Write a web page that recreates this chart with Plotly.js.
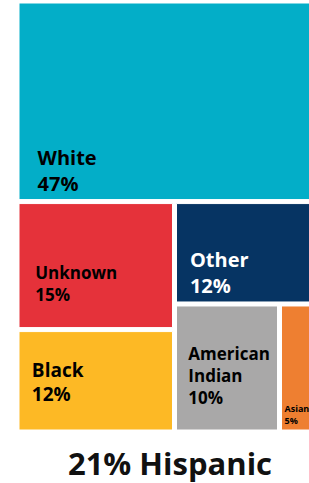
<!DOCTYPE html>
<html>
<head>
<meta charset="utf-8">
<script src="https://cdn.plot.ly/plotly-3.0.1.min.js"></script>
<style>
  html, body { margin: 0; padding: 0; overflow: hidden; background: #ffffff; }
  #chart { width: 340px; height: 483px; }
</style>
</head>
<body>
<div id="chart"></div>
<script>
// Data
const categories = ["White", "Unknown", "Black", "Other", "American Indian", "Asian"];
const displayLines = [["White"], ["Unknown"], ["Black"], ["Other"], ["American", "Indian"], ["Asian"]];
const shares = [47, 15, 12, 12, 10, 5];
const colors = ["#03AEC8", "#E5323A", "#FDB925", "#063463", "#A9A8A8", "#EE7F31"];
const textColors = ["#000000", "#000000", "#000000", "#ffffff", "#000000", "#000000"];
const textSizes = [20, 17, 19, 20, 17, 9];
const indents = [3, 3, 2, 2, 2, 0];          // leading non-breaking spaces
const liftLine = [false, true, true, false, true, false]; // extra bottom spacing line
const titleText = "21% Hispanic";

const pad = n => "&nbsp;".repeat(n);
const displayNames = displayLines.map((lines, i) => lines.map(l => pad(indents[i]) + l).join("<br>"));
const templates = categories.map((c, i) =>
  "%{text}<br>" + pad(indents[i]) + "%{value}%" +
  (liftLine[i] ? "<br><span style='font-size:2px'>&nbsp;</span>" : "")
);

const trace = {
  type: "treemap",
  ids: ["root"].concat(categories),
  labels: [""].concat(categories),
  parents: [""].concat(categories.map(() => "root")),
  values: [0].concat(shares),
  text: [""].concat(displayNames),
  texttemplate: [""].concat(templates),
  textposition: "bottom left",
  sort: true,
  marker: {
    colors: ["#ffffff"].concat(colors),
    line: { color: "#ffffff", width: 1 },
    pad: { t: 0, l: 0, r: 0, b: 0 }
  },
  tiling: { packing: "squarify", squarifyratio: 1, pad: 4 },
  textfont: {
    family: "Open Sans, sans-serif",
    weight: 700,
    color: ["#000000"].concat(textColors),
    size: [10].concat(textSizes)
  },
  hoverinfo: "label+value",
  pathbar: { visible: false }
};

const layout = {
  width: 340,
  height: 483,
  autosize: false,
  margin: { l: 19, r: 10, t: 3, b: 53 },
  paper_bgcolor: "#ffffff",
  showlegend: false,
  title: {
    text: titleText,
    x: 0.5,
    xanchor: "center",
    xref: "container",
    y: 0.04,
    yanchor: "middle",
    yref: "container",
    font: { family: "Open Sans, sans-serif", size: 31, weight: 700, color: "#111111" }
  }
};

Plotly.newPlot("chart", [trace], layout, { displayModeBar: false });
</script>
</body>
</html>
